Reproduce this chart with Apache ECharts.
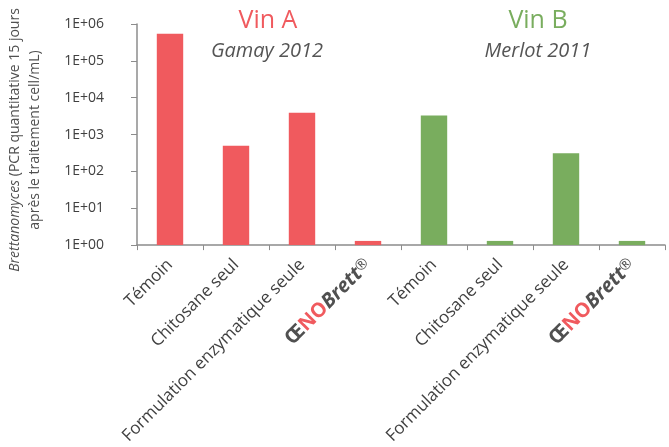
<!DOCTYPE html>
<html>
<head>
<meta charset="utf-8">
<script src="https://cdn.jsdelivr.net/npm/echarts@6/dist/echarts.min.js"></script>
<style>
  html, body { margin: 0; padding: 0; background: #fff; }
  #chart { width: 669px; height: 447px; }
</style>
</head>
<body>
<div id="chart"></div>
<script>
// categories (4 per wine)
var categories = ['Témoin', 'Chitosane seul', 'Formulation enzymatique seule', 'OENO',
                  'Témoin', 'Chitosane seul', 'Formulation enzymatique seule', 'OENO'];
// Brettanomyces counts (cell/mL)
var vinA = [540000, 500, 3900, 1.3];
var vinB = [3300, 1.3, 310, 1.3];
var yTicks = ['1E+00', '1E+01', '1E+02', '1E+03', '1E+04', '1E+05', '1E+06'];

var red = '#F05A5E';
var green = '#79AD5E';
var grey = '#555555';

var data = [];
vinA.forEach(function (v) { data.push({ value: v, itemStyle: { color: red } }); });
vinB.forEach(function (v) { data.push({ value: v, itemStyle: { color: green } }); });

var myChart = echarts.init(document.getElementById('chart'));
var option = {
    animation: false,
    textStyle: { fontFamily: 'Open Sans' },
    grid: { left: 137, right: 4, top: 24, bottom: 201, containLabel: false },
    title: [
        { text: 'Vin A', left: 263, top: 3, textAlign: 'center',
          textStyle: { color: red, fontSize: 25, fontWeight: 'normal', fontFamily: 'Open Sans' } },
        { text: 'Gamay 2012', left: 262, top: 36, textAlign: 'center',
          textStyle: { color: grey, fontSize: 20, fontStyle: 'italic', fontWeight: 'normal', fontFamily: 'Open Sans' } },
        { text: 'Vin B', left: 533, top: 3, textAlign: 'center',
          textStyle: { color: green, fontSize: 25, fontWeight: 'normal', fontFamily: 'Open Sans' } },
        { text: 'Merlot 2011', left: 533, top: 36, textAlign: 'center',
          textStyle: { color: grey, fontSize: 20, fontStyle: 'italic', fontWeight: 'normal', fontFamily: 'Open Sans' } }
    ],
    graphic: [{
        type: 'text',
        x: 25,
        y: 140,
        rotation: Math.PI / 2,
        style: {
            text: '{i|Brettanomyces} (PCR quantitative 15 jours\naprès le traitement cell/mL)',
            x: 0,
            y: 0,
            align: 'center',
            verticalAlign: 'middle',
            fill: '#505050',
            font: '14px "Open Sans"',
            lineHeight: 20,
            rich: { i: { fontStyle: 'italic', fontSize: 14, fontFamily: 'Open Sans', fill: '#505050', lineHeight: 20 } }
        }
    }],
    xAxis: {
        type: 'category',
        data: categories,
        axisLine: { lineStyle: { color: '#8c8c8c', width: 1.5 } },
        axisTick: { show: true, length: 5, lineStyle: { color: '#8c8c8c' } },
        axisLabel: {
            rotate: 45,
            interval: 0,
            margin: 17,
            color: '#404040',
            fontSize: 17,
            formatter: function (v) {
                if (v === 'OENO') return '{a|Œ}{b|NO}{c|Brett}{d|®}';
                return v;
            },
            rich: {
                a: { fontSize: 20, fontWeight: 'bold', color: '#505050' },
                b: { fontSize: 20, fontWeight: 'bold', color: red },
                c: { fontSize: 20, fontWeight: 'bold', fontStyle: 'italic', color: '#505050' },
                d: { fontSize: 15, color: '#505050', verticalAlign: 'top' }
            }
        }
    },
    yAxis: {
        type: 'log',
        logBase: 10,
        min: 1,
        max: 1000000,
        splitLine: { show: false },
        axisLine: { show: true, lineStyle: { color: '#8c8c8c', width: 1.5 } },
        axisTick: { show: true, length: 6, lineStyle: { color: '#8c8c8c' } },
        axisLabel: {
            color: '#404040',
            fontSize: 14,
            margin: 33,
            formatter: function (v) {
                return yTicks[Math.round(Math.log10(v))];
            }
        }
    },
    series: [{
        type: 'bar',
        data: data,
        barWidth: '40%'
    }]
};
myChart.setOption(option);
</script>
</body>
</html>
